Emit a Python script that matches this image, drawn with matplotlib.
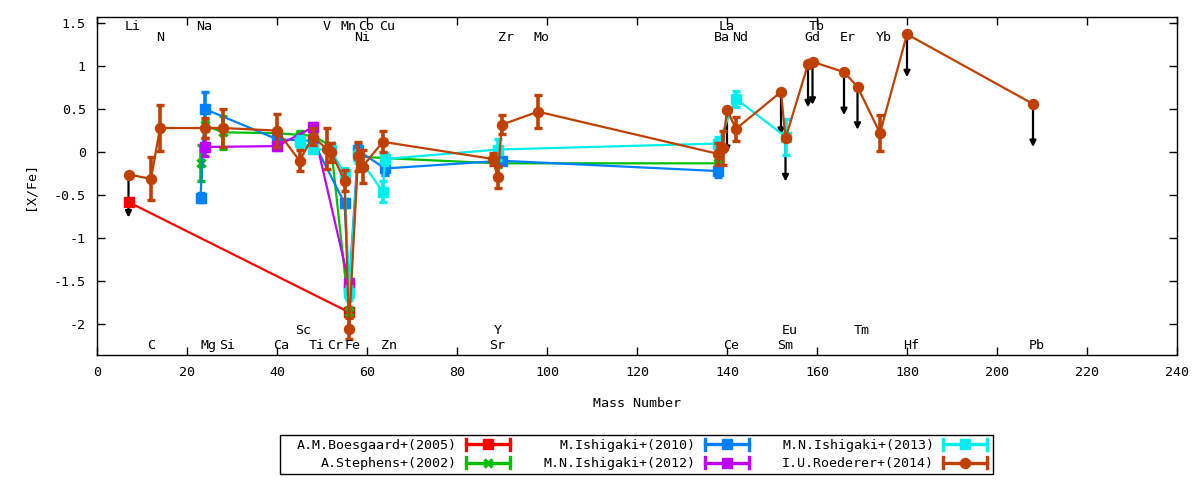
import numpy as np
import matplotlib
matplotlib.use("Agg")
import matplotlib.pyplot as plt
from matplotlib.lines import Line2D
from matplotlib.patches import Rectangle
from matplotlib.legend_handler import HandlerBase
from matplotlib.ticker import FuncFormatter, MultipleLocator

# element -> mass number
ELEMENTS = ["Li", "C", "N", "Na", "Mg", "Si", "Ca", "Sc", "Ti", "V", "Cr", "Mn",
            "Fe", "Ni", "Co", "Cu", "Zn", "Sr", "Y", "Zr", "Mo", "Ba", "La",
            "Ce", "Nd", "Sm", "Eu", "Gd", "Tb", "Er", "Tm", "Yb", "Hf", "Pb"]
MASSES = [7, 12, 14, 23, 24, 28, 40, 45, 48, 51, 52, 55,
          56, 58, 59, 63.5, 64, 88, 89, 90, 98, 138, 139,
          140, 142, 152, 153, 158, 159, 166, 169, 174, 180, 208]

# element names written along the top and bottom of the frame
TOP_ROW = ["Li", "Na", "V", "Mn", "Co", "Cu", "La", "Tb"]
SECOND_ROW = ["N", "Ni", "Zr", "Mo", "Ba", "Nd", "Gd", "Er", "Yb"]
LOW_ROW = ["Sc", "Y", "Eu", "Tm"]
BOTTOM_ROW = ["C", "Mg", "Si", "Ca", "Ti", "Cr", "Fe", "Zn", "Sr", "Ce", "Sm", "Hf", "Pb"]

# A.M.Boesgaard+(2005)
boes_el = ["Li", "Fe"]
boes_val = [-0.58, -1.86]
boes_err = [0.03, 0.03]

# A.Stephens+(2002)
step_el = ["Na", "Mg", "Si", "Ca", "Sc", "Ti", "Cr", "Fe", "Ni", "Zn", "Y", "Ba"]
step_val = [-0.13, 0.31, 0.23, 0.22, 0.20, 0.19, 0.07, -1.86, -0.05, -0.07, -0.13, -0.13]
step_err = [0.21, 0.06, 0.19, 0.05, 0.04, 0.04, 0.04, 0.06, 0.04, 0.04, 0.04, 0.04]

# M.Ishigaki+(2010)
ish10_el = ["Na", "Mg", "Ca", "Ti", "Mn", "Fe", "Ni", "Zn", "Zr", "Ba"]
ish10_val = [-0.53, 0.50, 0.15, 0.13, -0.59, -1.58, 0.02, -0.19, -0.10, -0.22]
ish10_err = [0.05, 0.20, 0.05, 0.05, 0.05, 0.05, 0.08, 0.07, 0.03, 0.07]

# M.N.Ishigaki+(2012)
ish12_el = ["Mg", "Ca", "Ti", "Fe"]
ish12_val = [0.06, 0.07, 0.29, -1.52]
ish12_err = [0.10, 0.05, 0.05, 0.05]

# M.N.Ishigaki+(2013)
ish13_el = ["Sc", "Ti", "Cr", "Mn", "Fe", "Ni", "Cu", "Zn", "Y", "Ba", "Nd", "Eu"]
ish13_val = [0.12, 0.04, 0.02, -0.25, -1.64, -0.05, -0.46, -0.08, 0.03, 0.10, 0.62, 0.18]
ish13_err = [0.07, 0.04, 0.04, 0.06, 0.08, 0.08, 0.12, 0.07, 0.12, 0.08, 0.09, 0.21]

# I.U.Roederer+(2014), error 0 = upper limit
roed_el = ["Li", "C", "N", "Mg", "Si", "Ca", "Sc", "Ti", "V", "Cr", "Mn", "Fe",
           "Ni", "Co", "Cu", "Sr", "Y", "Zr", "Mo", "Ba", "La", "Ce", "Nd",
           "Sm", "Eu", "Gd", "Tb", "Er", "Tm", "Yb", "Hf", "Pb"]
roed_val = [-0.26, -0.31, 0.28, 0.28, 0.28, 0.25, -0.10, 0.18, 0.04, 0.00, -0.33, -2.05,
            -0.05, -0.17, 0.12, -0.08, -0.29, 0.32, 0.47, -0.02, 0.05, 0.49, 0.27,
            0.70, 0.16, 1.02, 1.05, 0.93, 0.76, 0.22, 1.37, 0.56]
roed_err = [0, 0.25, 0.27, 0.12, 0.22, 0.19, 0.12, 0.10, 0.24, 0.11, 0.12, 0.12,
            0.17, 0.19, 0.12, 0.07, 0.13, 0.11, 0.19, 0.13, 0.20, 0, 0.14,
            0, 0, 0, 0, 0, 0, 0.21, 0, 0]
roed_limit = ["Li", "Ce", "Sm", "Eu", "Gd", "Tb", "Er", "Tm", "Hf", "Pb"]
LIMIT_LENGTH = 0.5

plt.rcParams["font.family"] = ["DejaVu Sans Mono"]
plt.rcParams["font.size"] = 9.6
plt.rcParams["axes.unicode_minus"] = False

mass_of = dict(zip(ELEMENTS, MASSES))


class ErrorKey(HandlerBase):
    # gnuplot-like key sample: horizontal bar with end ticks and point in the middle
    def create_artists(self, legend, orig_handle, xdescent, ydescent,
                       width, height, fontsize, trans):
        y = height / 2 - ydescent
        x0, x1 = -xdescent, width - xdescent
        h = 0.6 * height
        c = orig_handle.get_color()
        bar = Line2D([x0, x1], [y, y], color=c, lw=2.4)
        caps = Line2D([x0, x0, np.nan, x1, x1], [y - h, y + h, np.nan, y - h, y + h],
                      color=c, lw=2.4)
        mark = Line2D([(x0 + x1) / 2], [y], color=c, marker=orig_handle.get_marker(),
                      ms=orig_handle.get_markersize(), mew=orig_handle.get_markeredgewidth())
        for a in (bar, caps, mark):
            a.set_transform(trans)
        return [bar, caps, mark]


def draw_series(ax, elems, vals, errs, color, marker, ms, z, mew=1.0):
    x = [mass_of[e] for e in elems]
    ax.plot(x, vals, color=color, lw=1.6, marker=marker, ms=ms, mew=mew, zorder=z)
    idx = [i for i, e in enumerate(errs) if e > 0]
    ax.errorbar([x[i] for i in idx], [vals[i] for i in idx], yerr=[errs[i] for i in idx],
                fmt="none", ecolor=color, elinewidth=2.6, capsize=3, capthick=2.4, zorder=z)
    return Line2D([], [], color=color, marker=marker, ms=ms, mew=mew)


fig = plt.figure(figsize=(12, 4.8), dpi=100)
ax = fig.add_axes([97 / 1200, 1 - 355 / 480, 1080 / 1200, 338 / 480])

series = [
    (boes_el, boes_val, boes_err, "#ff0000", "s", 7.5, 1.0, "A.M.Boesgaard+(2005)"),
    (step_el, step_val, step_err, "#00c000", "x", 6, 2.5, "A.Stephens+(2002)"),
    (ish10_el, ish10_val, ish10_err, "#0080ff", "s", 7, 1.0, "M.Ishigaki+(2010)"),
    (ish12_el, ish12_val, ish12_err, "#c000ff", "s", 7, 1.0, "M.N.Ishigaki+(2012)"),
    (ish13_el, ish13_val, ish13_err, "#00eeee", "s", 7, 1.0, "M.N.Ishigaki+(2013)"),
    (roed_el, roed_val, roed_err, "#c04000", "o", 7.2, 1.0, "I.U.Roederer+(2014)"),
]

handles, labels = [], []
for k, (el, val, err, col, mk, ms, mew, lab) in enumerate(series):
    h = draw_series(ax, el, val, err, col, mk, ms, z=3 + k, mew=mew)
    handles.append(h)
    labels.append(lab)

# upper limits of Roederer+(2014)
for e, v in zip(roed_el, roed_val):
    if e in roed_limit:
        m = mass_of[e]
        ax.annotate("", xy=(m, v - LIMIT_LENGTH), xytext=(m, v),
                    arrowprops=dict(arrowstyle="-|>", color="black", lw=1.6,
                                    mutation_scale=9, shrinkA=0, shrinkB=0),
                    zorder=2)

for row, ypos in ((TOP_ROW, 1.465), (SECOND_ROW, 1.337), (LOW_ROW, -2.07), (BOTTOM_ROW, -2.244)):
    for name in row:
        ax.text(mass_of[name] - 0.9, ypos, name, ha="left", va="center", zorder=10)

ax.set_xlim(0, 240)
ax.set_ylim(-2.357, 1.57)
ax.xaxis.set_major_locator(MultipleLocator(20))
ax.yaxis.set_major_locator(MultipleLocator(0.5))
ax.yaxis.set_major_formatter(FuncFormatter(lambda v, p: "%g" % v))
ax.tick_params(direction="in", top=True, right=True, length=6, width=1, pad=8)
for s in ax.spines.values():
    s.set_linewidth(1)

ax.set_xlabel("Mass Number")
ax.xaxis.set_label_coords(0.5, -0.125)
ax.set_ylabel("[X/Fe]")
ax.yaxis.set_label_coords(-0.056, 0.5)

# legend in three columns, text left of sample, boxed like gnuplot
leg = fig.legend(handles, labels,
                 ncol=3, markerfirst=False, frameon=False,
                 loc="center", bbox_to_anchor=(642 / 1200, 1 - 454.5 / 480),
                 handler_map={Line2D: ErrorKey()}, handlelength=3.3, handletextpad=0.7,
                 columnspacing=2.5, labelspacing=0.4, borderpad=0.2)
fig.add_artist(Rectangle((280 / 1200, 1 - 474 / 480), 713 / 1200, 39 / 480,
                         transform=fig.transFigure, fill=False, lw=1, ec="black"))

fig.savefig("out.png", dpi=100)
